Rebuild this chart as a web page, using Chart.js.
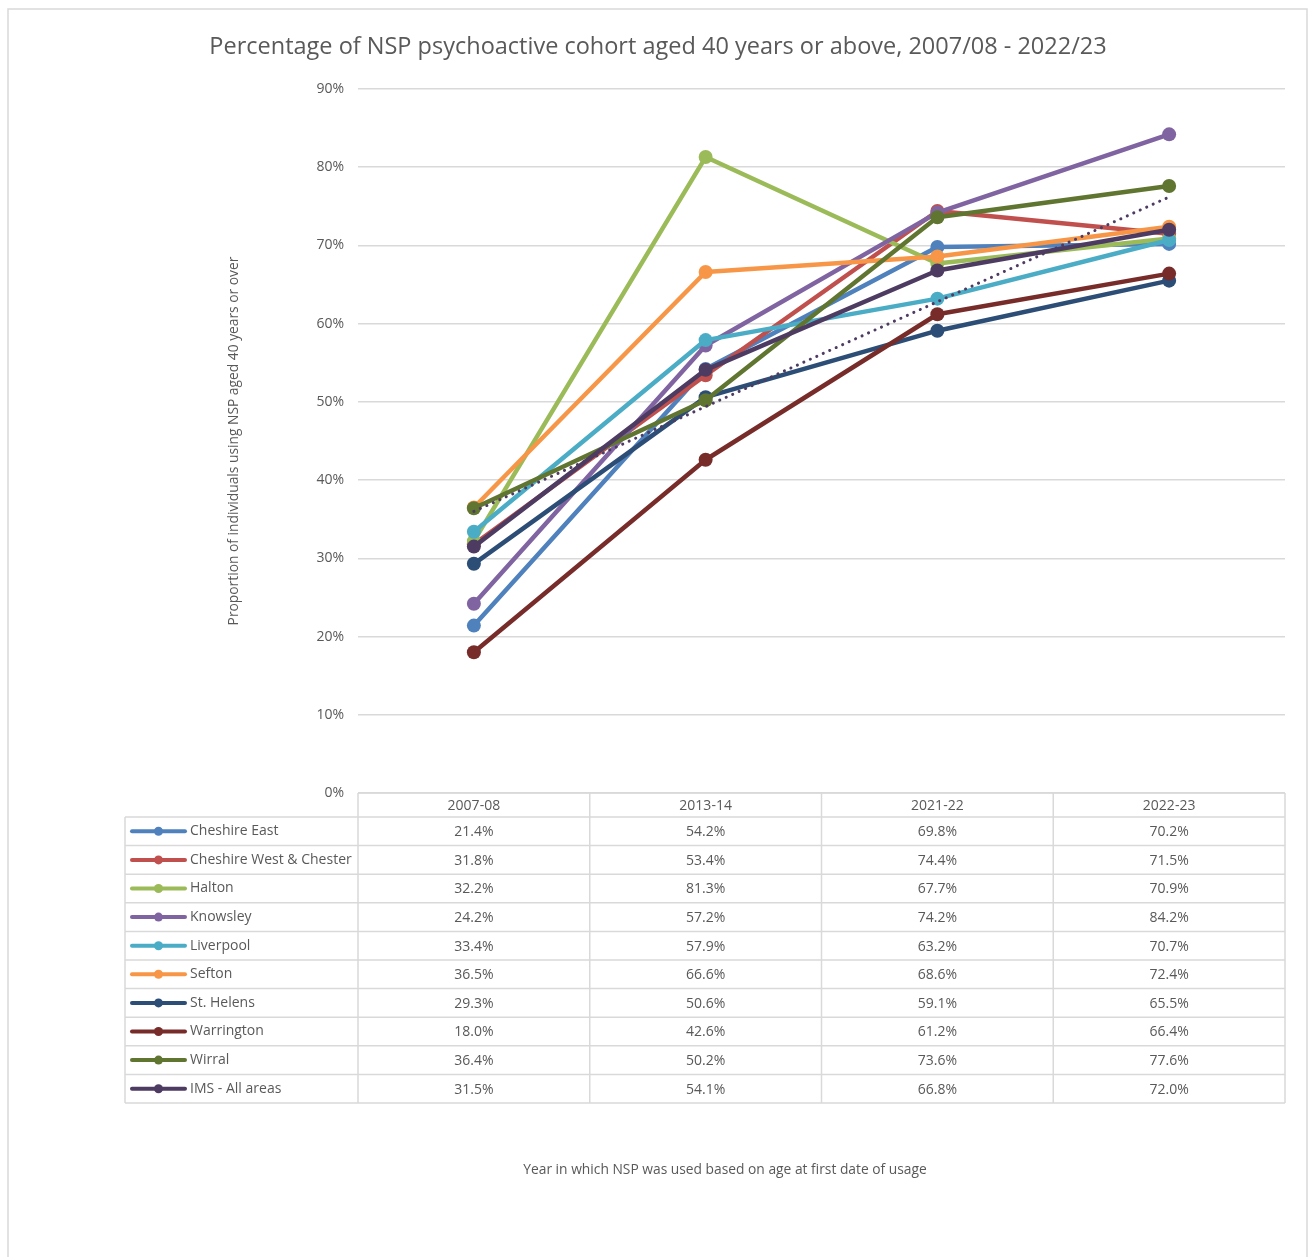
<!DOCTYPE html>
<html>
<head>
<meta charset="utf-8">
<title>NSP psychoactive cohort aged 40 or above</title>
<script src="https://cdn.jsdelivr.net/npm/chart.js@4.4.1/dist/chart.umd.min.js"></script>
<style>
  html, body { margin: 0; padding: 0; background: #fff; }
  canvas { display: block; }
</style>
</head>
<body>
<canvas id="chart" width="1309" height="1257"></canvas>
<script>
// values
const years = ['2007-08', '2013-14', '2021-22', '2022-23']

const cheshireEast = [21.4, 54.2, 69.8, 70.2]
const cheshireWest = [31.8, 53.4, 74.4, 71.5]
const halton = [32.2, 81.3, 67.7, 70.9]
const knowsley = [24.2, 57.2, 74.2, 84.2]
const liverpool = [33.4, 57.9, 63.2, 70.7]
const sefton = [36.5, 66.6, 68.6, 72.4]
const stHelens = [29.3, 50.6, 59.1, 65.5]
const warrington = [18.0, 42.6, 61.2, 66.4]
const wirral = [36.4, 50.2, 73.6, 77.6]
const imsAll = [31.5, 54.1, 66.8, 72.0]

// dotted trendline on IMS - All areas, only its two ends
const imsTrend = [36.0, null, null, 76.2]

const yMin = 0
const yMax = 90
const yStep = 10

const TEXT = '#595959'
const GRID = '#d9d9d9'
const FONT = '"Open Sans", "DejaVu Sans", sans-serif'

const series = [
  { label: 'Cheshire East', data: cheshireEast, color: '#4f81bd' },
  { label: 'Cheshire West & Chester', data: cheshireWest, color: '#c0504d' },
  { label: 'Halton', data: halton, color: '#9bbb59' },
  { label: 'Knowsley', data: knowsley, color: '#8064a2' },
  { label: 'Liverpool', data: liverpool, color: '#4bacc6' },
  { label: 'Sefton', data: sefton, color: '#f79646' },
  { label: 'St. Helens', data: stHelens, color: '#2c4d75' },
  { label: 'Warrington', data: warrington, color: '#772c2a' },
  { label: 'Wirral', data: wirral, color: '#5f7530' },
  { label: 'IMS - All areas', data: imsAll, color: '#4d3b62' }
]

const datasets = series.map((s, i) => ({
  label: s.label,
  data: s.data,
  borderColor: s.color,
  backgroundColor: s.color,
  borderWidth: 4.5,
  pointRadius: 7,
  pointBorderWidth: 0,
  pointBackgroundColor: s.color,
  borderJoinStyle: 'round',
  borderCapStyle: 'round',
  tension: 0,
  order: series.length - i
}))

datasets.push({
  label: 'Linear (IMS - All areas)',
  data: imsTrend,
  borderColor: '#4d3b62',
  borderWidth: 3,
  borderDash: [0.1, 7],
  borderCapStyle: 'round',
  pointRadius: 0,
  spanGaps: true,
  order: 0
})

// frame, title, axis title and the data table under the plot
const decorPlugin = {
  id: 'decor',
  beforeDraw(chart) {
    const ctx = chart.ctx
    ctx.save()
    ctx.strokeStyle = GRID
    ctx.lineWidth = 1.5
    ctx.beginPath()
    ctx.moveTo(8, chart.height)
    ctx.lineTo(8, 9)
    ctx.lineTo(1307, 9)
    ctx.lineTo(1307, chart.height)
    ctx.stroke()
    ctx.restore()
  },
  afterDraw(chart) {
    const ctx = chart.ctx
    const area = chart.chartArea
    const xs = chart.scales.x
    const colW = area.width / years.length
    const top = area.bottom
    const headH = 24
    const rowH = 28.6
    const keyLeft = 125
    const bottom = top + headH + rowH * series.length

    ctx.save()
    ctx.fillStyle = TEXT
    ctx.textAlign = 'center'
    ctx.textBaseline = 'middle'
    ctx.font = '23.5px ' + FONT
    ctx.fillText('Percentage of NSP psychoactive cohort aged 40 years or above, 2007/08 - 2022/23', 658, 47)

    ctx.font = '13.8px ' + FONT
    ctx.fillText('Year in which NSP was used based on age at first date of usage', 725, 1170)

    // grid of the table
    ctx.strokeStyle = GRID
    ctx.lineWidth = 1.5
    ctx.beginPath()
    ctx.moveTo(area.left, top)
    ctx.lineTo(area.right, top)
    for (let r = 0; r <= series.length; r++) {
      const y = top + headH + r * rowH
      ctx.moveTo(keyLeft, y)
      ctx.lineTo(area.right, y)
    }
    ctx.moveTo(keyLeft, top + headH)
    ctx.lineTo(keyLeft, bottom)
    for (let c = 0; c <= years.length; c++) {
      const x = area.left + c * colW
      ctx.moveTo(x, top)
      ctx.lineTo(x, bottom)
    }
    ctx.stroke()

    ctx.font = '14px ' + FONT
    ctx.fillStyle = TEXT
    years.forEach((yr, c) => {
      ctx.fillText(yr, xs.getPixelForValue(c), top + headH / 2 + 1)
    })

    series.forEach((s, r) => {
      const cy = top + headH + r * rowH + rowH / 2
      // legend key
      ctx.strokeStyle = s.color
      ctx.lineWidth = 4
      ctx.lineCap = 'round'
      ctx.beginPath()
      ctx.moveTo(132, cy)
      ctx.lineTo(185, cy)
      ctx.stroke()
      ctx.fillStyle = s.color
      ctx.beginPath()
      ctx.arc(158.5, cy, 4.5, 0, Math.PI * 2)
      ctx.fill()

      ctx.fillStyle = TEXT
      ctx.textAlign = 'left'
      ctx.fillText(s.label, 190, cy)
      ctx.textAlign = 'center'
      s.data.forEach((v, c) => {
        ctx.fillText(v.toFixed(1) + '%', xs.getPixelForValue(c), cy + 1)
      })
    })
    ctx.restore()
  }
}

new Chart(document.getElementById('chart'), {
  type: 'line',
  data: { labels: years, datasets: datasets },
  options: {
    responsive: false,
    animation: false,
    layout: { padding: { top: 89, left: 220, right: 24, bottom: 464 } },
    plugins: {
      legend: { display: false },
      title: { display: false },
      tooltip: { enabled: false }
    },
    scales: {
      x: {
        type: 'category',
        offset: true,
        display: false
      },
      y: {
        min: yMin,
        max: yMax,
        afterFit: scale => { scale.width = 138 },
        border: { display: false },
        grid: { color: GRID, lineWidth: 1.5, drawTicks: false },
        ticks: {
          stepSize: yStep,
          padding: 14,
          color: TEXT,
          font: { family: FONT, size: 14 },
          callback: v => v + '%'
        },
        title: {
          display: true,
          text: 'Proportion of individuals using NSP aged 40 years or over',
          color: TEXT,
          font: { family: FONT, size: 13.8 },
          padding: { top: 6, bottom: 0 }
        }
      }
    }
  },
  plugins: [decorPlugin]
})
</script>
</body>
</html>
